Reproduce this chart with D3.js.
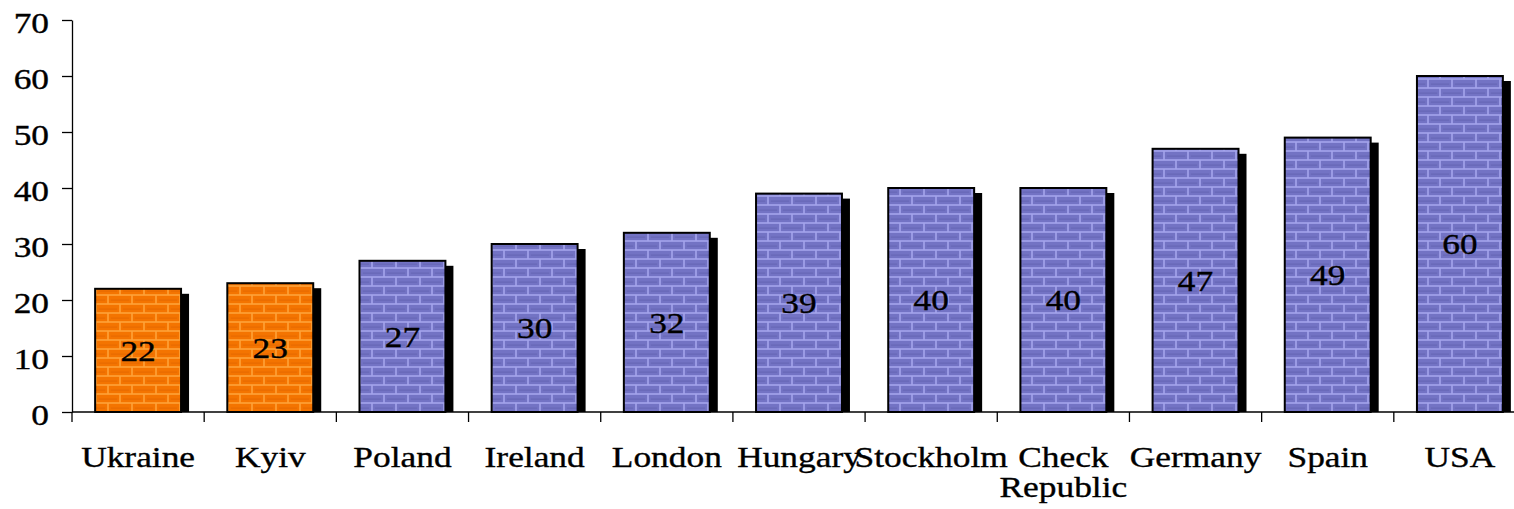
<!DOCTYPE html>
<html>
<head>
<meta charset="utf-8">
<script src="https://cdn.jsdelivr.net/npm/d3@7"></script>
<style>
  html, body { margin: 0; padding: 0; background: #fff; }
  svg { display: block; }
  text { font-family: "Liberation Serif", "Times New Roman", serif; fill: #000; stroke: #000; stroke-width: 0.35px; }
</style>
</head>
<body>
<svg id="chart" width="1514" height="509"></svg>
<script>
// Values per place
const categories = ["Ukraine", "Kyiv", "Poland", "Ireland", "London", "Hungary",
                    "Stockholm", "Check Republic", "Germany", "Spain", "USA"];
const values = [22, 23, 27, 30, 32, 39, 40, 40, 47, 49, 60];
const groups = ["home", "home", "abroad", "abroad", "abroad", "abroad",
                "abroad", "abroad", "abroad", "abroad", "abroad"];
const yTicks = [0, 10, 20, 30, 40, 50, 60, 70];

const plot = { left: 72, right: 1526, top: 20, bottom: 412 };
const FONT = 29, STRETCH = 1.22;

const svg = d3.select("#chart");

// Brick textures
const defs = svg.append("defs");
const brick = { w: 24, h: 9, gap: 1.6 };
const palettes = {
  home:   { mortar: "#ffa238", brick: "#f47400", dark: "#e86a00" },
  abroad: { mortar: "#a4a4ec", brick: "#7373c4", dark: "#6666b6" }
};
Object.entries(palettes).forEach(([key, p]) => {
  const pat = defs.append("pattern")
    .attr("id", "brick-" + key)
    .attr("patternUnits", "userSpaceOnUse")
    .attr("width", brick.w).attr("height", brick.h * 2)
    .attr("x", 0).attr("y", plot.bottom % (brick.h * 2));
  pat.append("rect").attr("width", brick.w).attr("height", brick.h * 2).attr("fill", p.mortar);
  const rows = [
    [[0, brick.w]],
    [[-brick.w / 2, brick.w / 2], [brick.w / 2, brick.w * 1.5]]
  ];
  rows.forEach((row, r) => {
    row.forEach(([x0, x1]) => {
      pat.append("rect")
        .attr("x", x0 + brick.gap / 2).attr("y", r * brick.h + brick.gap / 2)
        .attr("width", x1 - x0 - brick.gap).attr("height", brick.h - brick.gap)
        .attr("fill", p.brick);
      pat.append("rect")
        .attr("x", x0 + brick.gap / 2 + 2).attr("y", r * brick.h + brick.h / 2)
        .attr("width", x1 - x0 - brick.gap - 4).attr("height", 1.2)
        .attr("fill", p.dark);
    });
  });
});

// Scales
const x = d3.scaleBand().domain(categories)
  .range([plot.left, plot.right]).paddingInner(0.35).paddingOuter(0.175);
const slot = d3.scaleBand().domain(categories).range([plot.left, plot.right]).padding(0);
const y = d3.scaleLinear().domain([0, 70]).range([plot.bottom, plot.top]);

// Y axis
const yAxis = svg.append("g")
  .attr("transform", `translate(${plot.left},0)`)
  .call(d3.axisLeft(y).tickValues(yTicks).tickSize(10).tickSizeOuter(0).tickFormat(d3.format("d")));
yAxis.attr("font-family", null).attr("font-size", null);
yAxis.select(".domain").attr("stroke", "#000").attr("stroke-width", 1.3);
yAxis.selectAll(".tick line").attr("stroke", "#000").attr("stroke-width", 1.3);
yAxis.selectAll(".tick text")
  .attr("font-size", FONT)
  .attr("x", -23 / STRETCH)
  .attr("dy", "0.42em")
  .attr("transform", `scale(${STRETCH},1)`);

// Bars with drop shadows
const shadow = { dx: 8, dy: 5 };
const bars = svg.append("g");
bars.selectAll("rect.shadow").data(categories).join("rect")
  .attr("class", "shadow")
  .attr("x", d => x(d) + shadow.dx)
  .attr("y", (d, i) => y(values[i]) + shadow.dy)
  .attr("width", x.bandwidth())
  .attr("height", (d, i) => y(0) - y(values[i]) - shadow.dy)
  .attr("fill", "#000");
bars.selectAll("rect.bar").data(categories).join("rect")
  .attr("class", "bar")
  .attr("x", d => x(d))
  .attr("y", (d, i) => y(values[i]))
  .attr("width", x.bandwidth())
  .attr("height", (d, i) => y(0) - y(values[i]))
  .attr("fill", (d, i) => `url(#brick-${groups[i]})`)
  .attr("stroke", "#000")
  .attr("stroke-width", 2);

// X axis line and category separators
const xAxis = svg.append("g");
xAxis.append("line")
  .attr("x1", plot.left).attr("x2", plot.right)
  .attr("y1", y(0)).attr("y2", y(0))
  .attr("stroke", "#000").attr("stroke-width", 1.3);
xAxis.selectAll("line.sep").data(categories).join("line")
  .attr("class", "sep")
  .attr("x1", d => slot(d)).attr("x2", d => slot(d))
  .attr("y1", y(0)).attr("y2", y(0) + 10)
  .attr("stroke", "#000").attr("stroke-width", 1.3);

// Category labels (wrap two-word names)
const catLabels = xAxis.selectAll("text.cat").data(categories).join("text")
  .attr("class", "cat")
  .attr("font-size", FONT)
  .attr("text-anchor", "middle")
  .attr("transform", d => `translate(${x(d) + x.bandwidth() / 2},467) scale(${STRETCH},1)`);
catLabels.each(function (d) {
  const words = d === "Check Republic" ? ["Check", "Republic"] : [d];
  d3.select(this).selectAll("tspan").data(words).join("tspan")
    .attr("x", 0).attr("dy", (w, i) => i === 0 ? 0 : 30)
    .text(w => w);
});

// Value labels inside bars
svg.append("g").selectAll("text").data(categories).join("text")
  .attr("font-size", FONT)
  .attr("text-anchor", "middle")
  .attr("dy", "0.36em")
  .attr("transform", (d, i) =>
    `translate(${x(d) + x.bandwidth() / 2},${(y(values[i]) + y(0)) / 2}) scale(${STRETCH},1)`)
  .text((d, i) => values[i]);
</script>
</body>
</html>
